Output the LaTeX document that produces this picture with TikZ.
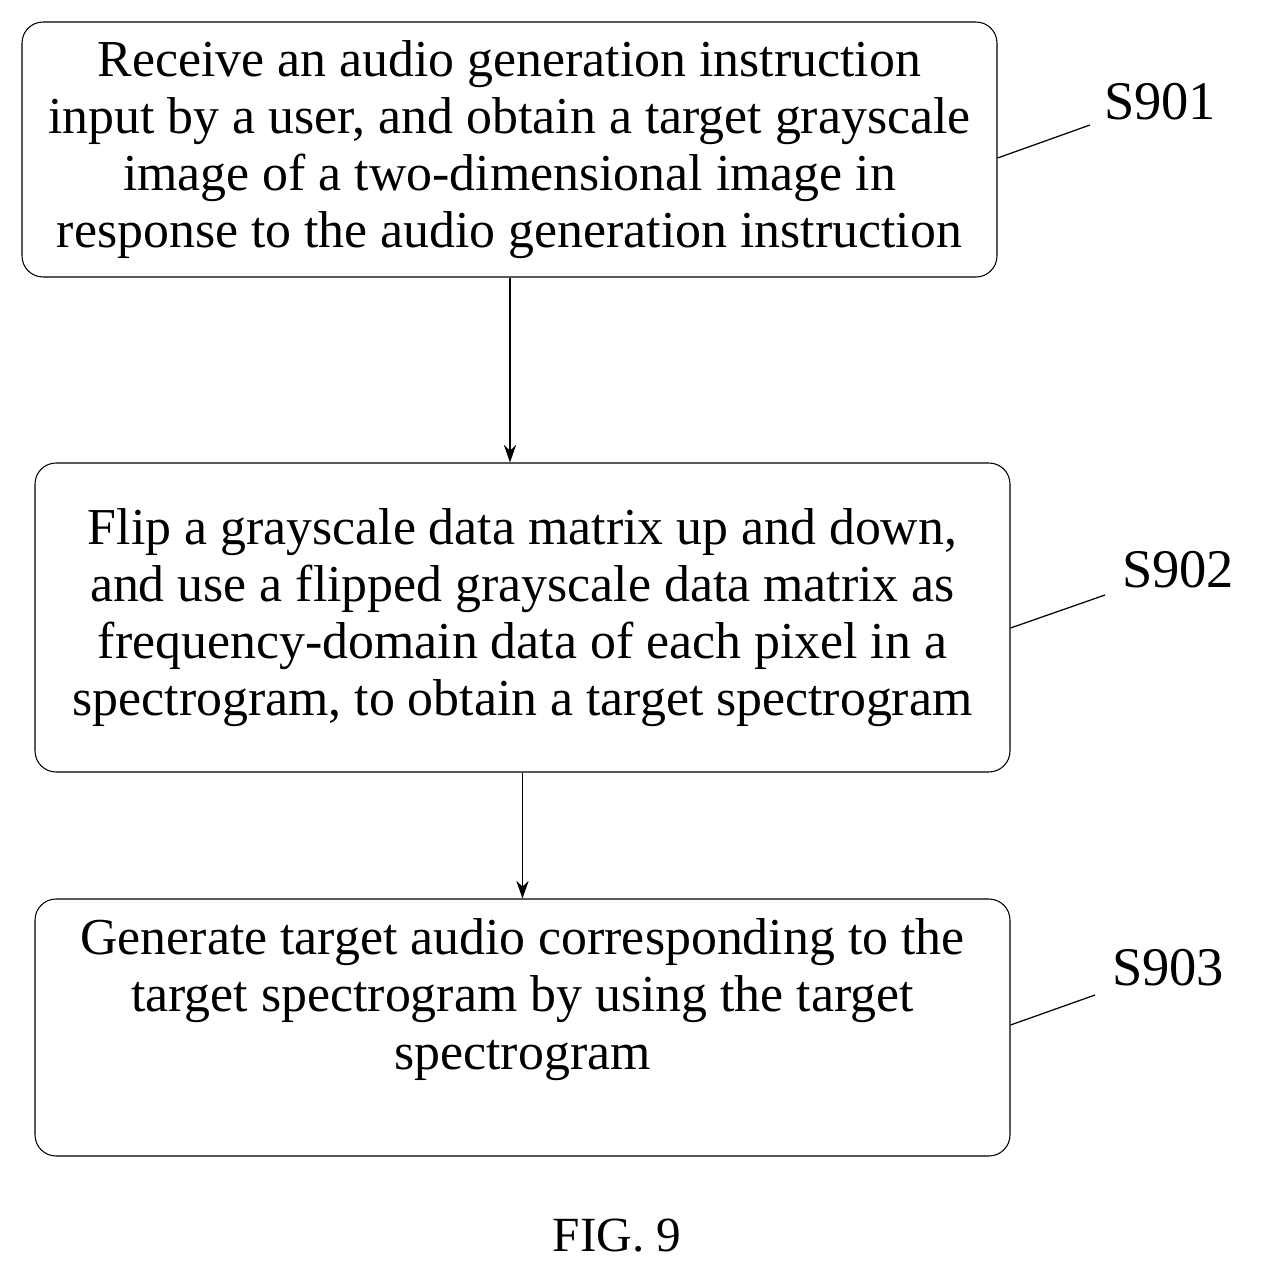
\documentclass[tikz,border=0pt]{standalone}
\usepackage{fontspec}
\setmainfont{Liberation Serif}
\usetikzlibrary{positioning, arrows.meta}
\tikzset{
    step box/.style={draw, rounded corners=12pt, line width=0.6pt, align=center,
        font=\fontsize{29.5}{32.5}\selectfont, inner sep=0pt},
    step label/.style={font=\fontsize{31}{36}\selectfont},
    flow/.style={-{Stealth[length=10pt,width=7pt]}, line width=0.8pt},
}
\begin{document}
\begin{tikzpicture}[x=0.02cm, y=-0.02cm]
\useasboundingbox (0,0) rectangle (1261,1272);

% steps
\node[step box, minimum width=975*0.02cm, minimum height=255*0.02cm] (s901) at (509.5,149.5)
    {Receive an audio generation instruction\\ input by a user, and obtain a target grayscale\\ image of a two-dimensional image in\\ response to the audio generation instruction};
\node[step box, minimum width=975*0.02cm, minimum height=309*0.02cm] (s902) at (522.5,617.5)
    {Flip a grayscale data matrix up and down,\\ and use a flipped grayscale data matrix as\\ frequency-domain data of each pixel in a\\ spectrogram, to obtain a target spectrogram};
\node[step box, minimum width=975*0.02cm, minimum height=257*0.02cm] (s903) at (522.5,1027.5)
    {Generate target audio corresponding to the\\ target spectrogram by using the target\\ spectrogram\\[0.2cm]};

\draw[flow] (s901.south -| 510,0) -- (s902.north -| 510,0);
\draw[flow] (s902.south) -- (s903.north);

% labels
\node[step label] (l901) at (1160,102) {S901};
\node[step label] (l902) at (1178,570) {S902};
\node[step label] (l903) at (1168,968) {S903};
\coordinate (c901) at (1090,125);
\coordinate (c902) at (1105,595);
\coordinate (c903) at (1095,995);
\draw[line width=0.7pt] (s901.east |- 0,158) -- (c901);
\draw[line width=0.7pt] (s902.east |- 0,628) -- (c902);
\draw[line width=0.7pt] (s903.east |- 0,1025) -- (c903);

\node[font=\fontsize{28}{32}\selectfont] (fig) at (617,1236) {FIG. 9};
\end{tikzpicture}
\end{document}
